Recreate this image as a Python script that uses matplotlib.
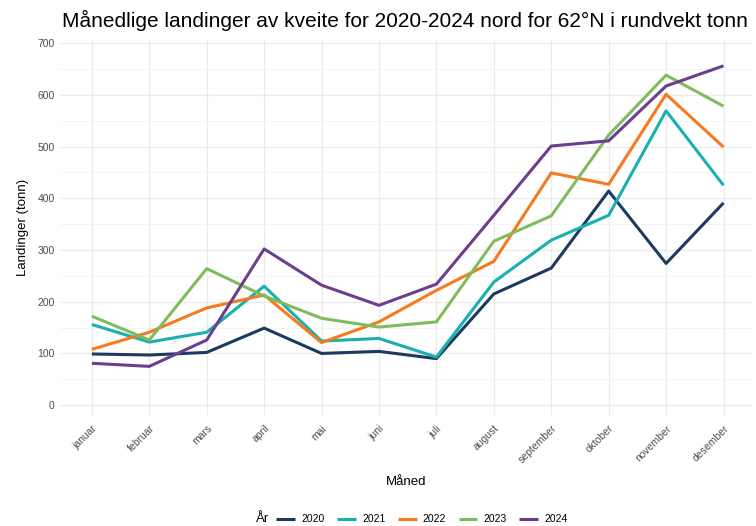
import matplotlib.pyplot as plt
import numpy as np

plt.rcParams['font.family'] = ['Liberation Sans', 'DejaVu Sans']

maaneder = ['januar', 'februar', 'mars', 'april', 'mai', 'juni', 'juli',
            'august', 'september', 'oktober', 'november', 'desember']
aar = ['2020', '2021', '2022', '2023', '2024']

# landinger i tonn, lest av figuren
l2020 = [99, 97, 102, 149, 100, 104, 90, 215, 265, 414, 274, 391]
l2021 = [156, 122, 141, 230, 124, 129, 93, 238, 319, 367, 569, 425]
l2022 = [108, 141, 188, 213, 121, 161, 222, 278, 449, 427, 601, 499]
l2023 = [172, 126, 264, 211, 168, 151, 161, 317, 366, 522, 638, 578]
l2024 = [81, 75, 126, 302, 232, 193, 234, 367, 501, 511, 617, 656]

farger = ['#1f3a60', '#1aafb0', '#f47b20', '#7fbd5c', '#6b3e8e']

fig = plt.figure(figsize=(7.56, 5.26), dpi=100)
ax = fig.add_axes([0.079, 0.211, 0.916, 0.715])

x = np.arange(len(maaneder))
linjer = []
for serie, navn, farge in zip([l2020, l2021, l2022, l2023, l2024], aar, farger):
    ln, = ax.plot(x, serie, color=farge, lw=2.2, label=navn, solid_capstyle='butt')
    linjer.append(ln)

ax.set_xlim(-0.56, 11.5)
ax.set_ylim(-19, 708)
ax.set_yticks(range(0, 701, 100))
ax.set_yticks(range(50, 701, 100), minor=True)
ax.set_xticks(x)
ax.set_xticklabels(maaneder, rotation=45, ha='right', rotation_mode='anchor')

ax.grid(True, which='major', color='#ebebeb', lw=0.9)
ax.grid(True, which='minor', axis='y', color='#f3f3f3', lw=0.6)
ax.set_axisbelow(True)
for s in ax.spines.values():
    s.set_visible(False)
ax.tick_params(which='both', length=0, colors='#4d4d4d', labelsize=7.5)
ax.tick_params(axis='x', pad=6)

ax.set_ylabel('Landinger (tonn)', fontsize=9.5, labelpad=6)
ax.set_xlabel('Måned', fontsize=9.5, labelpad=8)
fig.text(0.535, 0.962, 'Månedlige landinger av kveite for 2020-2024 nord for 62°N i rundvekt tonn',
         ha='center', va='center', fontsize=15)

fig.text(0.338, 0.013, 'År', fontsize=9.5, va='center')
fig.legend(handles=linjer, loc='center left', bbox_to_anchor=(0.353, 0.013), ncol=5,
           frameon=False, fontsize=7.5, handlelength=1.8, columnspacing=1.2, handletextpad=0.6)

fig.savefig('out.png', dpi=100)
